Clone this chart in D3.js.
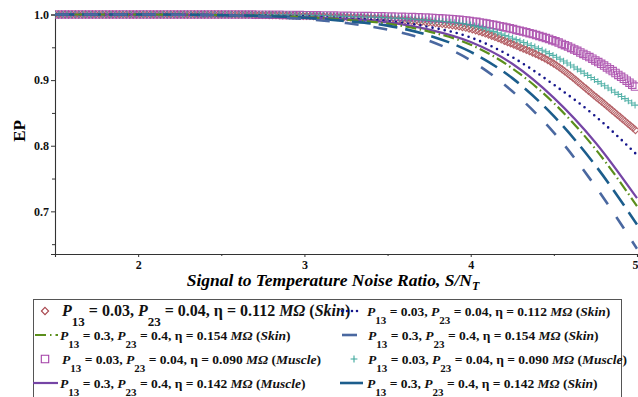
<!DOCTYPE html>
<html><head><meta charset="utf-8">
<script src="https://cdn.jsdelivr.net/npm/d3@7"></script>
<style>body{margin:0;background:#fff}svg{display:block;background:#fff}</style>
</head><body>
<svg id="c" width="638" height="397"></svg>
<script>
// ---- data ----
const snr = [1.5, 2, 2.5, 3, 3.25, 3.5, 3.75, 4, 4.25, 4.5, 4.75, 5];
const epDiamondSkin   = [1.0, 1.0, 1.0,   0.998, 0.996, 0.993, 0.988, 0.978, 0.955, 0.925, 0.875, 0.822];
const epDottedSkin    = [1.0, 1.0, 0.999, 0.997, 0.994, 0.990, 0.981, 0.965, 0.935, 0.893, 0.845, 0.786];
const epDashDotSkin   = [1.0, 1.0, 0.999, 0.996, 0.992, 0.986, 0.974, 0.954, 0.918, 0.865, 0.795, 0.708];
const epLongDashSkin  = [1.0, 1.0, 0.999, 0.993, 0.987, 0.977, 0.960, 0.930, 0.883, 0.820, 0.738, 0.643];
const epSquareMuscle  = [1.0, 1.0, 1.0,   0.999, 0.998, 0.997, 0.995, 0.990, 0.978, 0.960, 0.930, 0.888];
const epPlusMuscle    = [1.0, 1.0, 1.0,   0.999, 0.997, 0.995, 0.991, 0.984, 0.964, 0.937, 0.900, 0.860];
const epSolidMuscle   = [1.0, 1.0, 0.999, 0.996, 0.993, 0.988, 0.977, 0.958, 0.925, 0.873, 0.805, 0.720];
const epDashSkin142   = [1.0, 1.0, 0.999, 0.995, 0.990, 0.983, 0.968, 0.943, 0.903, 0.845, 0.770, 0.680];

const p13Vals = ["0.03", "0.03", "0.3", "0.3", "0.03", "0.03", "0.3", "0.3"];
const p23Vals = ["0.04", "0.04", "0.4", "0.4", "0.04", "0.04", "0.4", "0.4"];
const etaVals = ["0.112", "0.112", "0.154", "0.154", "0.090", "0.090", "0.142", "0.142"];
const tissueVals = ["Skin", "Skin", "Skin", "Skin", "Muscle", "Muscle", "Muscle", "Skin"];

const xTicks = [2, 3, 4, 5];
const xMinorTicks = [1.5, 2.5, 3.5, 4.5];
const yTicks = [0.7, 0.8, 0.9, 1.0];
const yMinorTicks = [0.65, 0.75, 0.85, 0.95];

// ---- styles ----
const seriesData = [epDiamondSkin, epDottedSkin, epDashDotSkin, epLongDashSkin,
                    epSquareMuscle, epPlusMuscle, epSolidMuscle, epDashSkin142];
const styles = [
  {kind: "diamond", color: "#a8454c", step: 3.4},
  {kind: "line", color: "#16168c", width: 2.6, dash: "0 6.2", cap: "round"},
  {kind: "line", color: "#5b8f1c", width: 2.2, dash: "11 3.5 1.5 3.5"},
  {kind: "line", color: "#4a68a0", width: 2.6, dash: "14 15"},
  {kind: "square", color: "#a33fa6", step: 3.4},
  {kind: "plus", color: "#3aa69b", step: 4.0},
  {kind: "line", color: "#7545a5", width: 2.2, dash: null},
  {kind: "line", color: "#1c5d8c", width: 2.6, dash: "19 8"}
];
const drawOrder = [0, 4, 5, 1, 6, 2, 7, 3];

const svg = d3.select("#c");
const x = d3.scaleLinear().domain([1.5, 5]).range([55, 637]);
const y = d3.scaleLinear().domain([0.635, 1.0]).range([254, 14.5]);

const serif = "'Liberation Serif','Times New Roman',serif";

// clip
svg.append("defs").append("clipPath").attr("id", "clip")
  .append("rect").attr("x", 55).attr("y", 6).attr("width", 583).attr("height", 248);

// axes
svg.append("g").attr("transform", "translate(55,0)")
  .call(d3.axisLeft(y).tickValues(yTicks).tickSize(4).tickPadding(2).tickFormat(d3.format(".1f")));
svg.append("g").attr("transform", "translate(55,0)")
  .call(d3.axisLeft(y).tickValues(yMinorTicks).tickSize(3).tickFormat(""))
  .select(".domain").remove();
const gx = svg.append("g").attr("transform", "translate(0,254)")
  .call(d3.axisBottom(x).tickValues(xTicks).tickSize(3).tickPadding(3).tickFormat(d3.format("d")));
svg.append("g").attr("transform", "translate(0,254)")
  .call(d3.axisBottom(x).tickValues(xMinorTicks).tickSize(2).tickFormat(""))
  .select(".domain").remove();
svg.selectAll(".domain").attr("stroke", "#333").attr("stroke-width", 1.1);
svg.selectAll(".tick line").attr("stroke", "#333");
svg.selectAll(".tick text").attr("font-family", serif).attr("font-weight", "bold")
  .attr("font-size", 12).attr("fill", "#111");
// keep the last x label inside the picture, as in the reference
gx.selectAll(".tick text").filter(d => d === 5).attr("text-anchor", "end").attr("x", 1);

// axis titles
svg.append("text").attr("transform", "translate(25,131) rotate(-90)")
  .attr("text-anchor", "middle").attr("font-family", serif).attr("font-weight", "bold")
  .attr("font-size", 17).text("EP");
const xt = svg.append("text").attr("x", 333).attr("y", 286).attr("text-anchor", "middle")
  .attr("font-family", serif).attr("font-weight", "bold").attr("font-style", "italic")
  .attr("font-size", 17.5);
xt.append("tspan").text("Signal to Temperature Noise Ratio, S/N");
xt.append("tspan").attr("dy", 4).attr("font-size", 12).text("T");

// curves
const plot = svg.append("g").attr("clip-path", "url(#clip)");
const line = d3.line().x(d => x(d[0])).y(d => y(d[1])).curve(d3.curveMonotoneX);

function symbolPath(kind, cx, cy) {
  if (kind === "diamond") { const r = 3.6; return `M${cx},${cy-r}L${cx+r},${cy}L${cx},${cy+r}L${cx-r},${cy}Z`; }
  if (kind === "square") { const r = 3.7; return `M${cx-r},${cy-r}h${2*r}v${2*r}h${-2*r}Z`; }
  const r = 3.4; return `M${cx-r},${cy}h${2*r}M${cx},${cy-r}v${2*r}`;
}

drawOrder.forEach(i => {
  const st = styles[i];
  const pts = snr.map((s, k) => [s, seriesData[i][k]]);
  const p = plot.append("path").attr("d", line(pts)).attr("fill", "none");
  if (st.kind === "line") {
    p.attr("stroke", st.color).attr("stroke-width", st.width);
    if (st.dash) p.attr("stroke-dasharray", st.dash);
    if (st.cap) p.attr("stroke-linecap", st.cap);
  } else {
    p.attr("stroke", "none");
    const node = p.node(), L = node.getTotalLength();
    let d = "";
    for (let l = 0; l <= L; l += st.step) {
      const q = node.getPointAtLength(l);
      d += symbolPath(st.kind, q.x, q.y);
    }
    plot.append("path").attr("d", d).attr("fill", "none").attr("stroke", st.color)
      .attr("stroke-width", 1.1).attr("stroke-opacity", 0.85);
  }
});

// legend
svg.append("rect").attr("x", 33.5).attr("y", 299.5).attr("width", 588).attr("height", 110)
  .attr("fill", "none").attr("stroke", "#555").attr("stroke-width", 1);

const legendPos = [
  {tx: 62, y: 316, fs: 16, sym: [40, 50]},
  {tx: 367, y: 316, fs: 13.5, sym: [342, 362]},
  {tx: 60, y: 340, fs: 13.5, sym: [35, 58]},
  {tx: 368, y: 340, fs: 13.5, sym: [342, 357]},
  {tx: 62, y: 364, fs: 13.5, sym: [40, 50]},
  {tx: 368, y: 364, fs: 13.5, sym: [349, 359]},
  {tx: 60, y: 388, fs: 13.5, sym: [33, 58]},
  {tx: 367, y: 388, fs: 13.5, sym: [340, 363]}
];

legendPos.forEach((lp, i) => {
  const st = styles[i];
  const g = svg.append("g");
  const cy = lp.y - 5;
  if (st.kind === "line") {
    const l = g.append("line").attr("x1", lp.sym[0]).attr("x2", lp.sym[1]).attr("y1", cy).attr("y2", cy)
      .attr("stroke", st.color).attr("stroke-width", st.width);
    if (i === 1) l.attr("stroke-dasharray", "0 5").attr("stroke-linecap", "round");
    if (i === 2) l.attr("stroke-dasharray", "11 4 1.5 4");
  } else {
    g.append("path").attr("d", symbolPath(st.kind, (lp.sym[0] + lp.sym[1]) / 2, cy))
      .attr("fill", "none").attr("stroke", st.color).attr("stroke-width", 1.1);
  }
  const fs = lp.fs, sub = Math.round(fs * 0.8), sh = fs * 0.62;
  const t = g.append("text").attr("x", lp.tx).attr("y", lp.y).attr("font-family", serif)
    .attr("font-weight", "bold").attr("font-size", fs).attr("fill", "#111");
  t.append("tspan").attr("font-style", "italic").text("P");
  t.append("tspan").attr("dy", sh).attr("font-size", sub).text("13");
  t.append("tspan").attr("dy", -sh).text(` = ${p13Vals[i]}, `);
  t.append("tspan").attr("font-style", "italic").text("P");
  t.append("tspan").attr("dy", sh).attr("font-size", sub).text("23");
  t.append("tspan").attr("dy", -sh).text(` = ${p23Vals[i]}, \u03b7 = ${etaVals[i]} `);
  t.append("tspan").attr("font-style", "italic").text("M\u03a9");
  t.append("tspan").text(" (");
  t.append("tspan").attr("font-style", "italic").text(tissueVals[i]);
  t.append("tspan").text(")");
});
</script>
</body></html>
